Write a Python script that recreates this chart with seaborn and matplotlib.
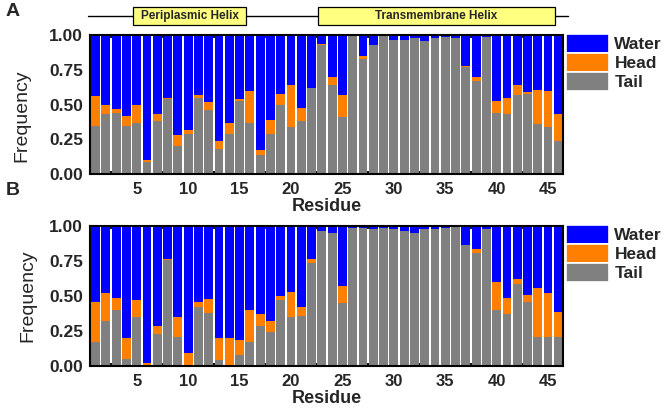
import numpy as np
import pandas as pd
import matplotlib
matplotlib.use("Agg")
import matplotlib.pyplot as plt
import matplotlib.transforms as mtransforms
from matplotlib.patches import Rectangle, Patch
from matplotlib.ticker import MultipleLocator, FormatStrFormatter
import seaborn as sns

residues = list(range(1, 47))

tail_a = [0.35, 0.43, 0.44, 0.35, 0.37, 0.09, 0.38, 0.54, 0.20, 0.29, 0.55, 0.46, 0.18, 0.29, 0.53,
          0.37, 0.14, 0.29, 0.50, 0.34, 0.38, 0.62, 0.93, 0.64, 0.41, 1.00, 0.83, 0.93, 1.00, 0.97,
          0.97, 0.98, 0.96, 0.98, 0.99, 0.98, 0.77, 0.67, 0.99, 0.44, 0.43, 0.57, 0.58, 0.36, 0.34, 0.24]
head_a = [0.21, 0.07, 0.03, 0.07, 0.13, 0.01, 0.05, 0.01, 0.08, 0.03, 0.02, 0.06, 0.06, 0.08, 0.01,
          0.23, 0.03, 0.10, 0.08, 0.30, 0.10, 0.00, 0.01, 0.06, 0.16, 0.00, 0.02, 0.00, 0.00, 0.00,
          0.00, 0.00, 0.00, 0.00, 0.00, 0.00, 0.01, 0.03, 0.00, 0.09, 0.12, 0.07, 0.01, 0.25, 0.26, 0.19]
water_a = [0.44, 0.50, 0.53, 0.58, 0.50, 0.90, 0.57, 0.45, 0.72, 0.68, 0.43, 0.48, 0.76, 0.63, 0.46,
           0.40, 0.83, 0.61, 0.42, 0.36, 0.52, 0.38, 0.06, 0.30, 0.43, 0.00, 0.15, 0.07, 0.00, 0.03,
           0.03, 0.02, 0.04, 0.02, 0.01, 0.02, 0.22, 0.30, 0.01, 0.47, 0.45, 0.36, 0.41, 0.39, 0.40, 0.57]

tail_b = [0.17, 0.32, 0.40, 0.05, 0.35, 0.005, 0.23, 0.76, 0.21, 0.00, 0.42, 0.38, 0.04, 0.00, 0.08,
          0.17, 0.29, 0.24, 0.47, 0.35, 0.36, 0.74, 0.97, 0.95, 0.45, 0.99, 0.99, 0.98, 0.99, 0.98,
          0.965, 0.955, 0.98, 0.985, 0.99, 1.00, 0.87, 0.81, 0.98, 0.40, 0.37, 0.59, 0.46, 0.21, 0.21, 0.21]
head_b = [0.29, 0.20, 0.09, 0.15, 0.12, 0.015, 0.06, 0.005, 0.14, 0.09, 0.04, 0.10, 0.16, 0.20, 0.105,
          0.23, 0.08, 0.08, 0.03, 0.18, 0.06, 0.025, 0.00, 0.00, 0.12, 0.00, 0.00, 0.00, 0.00, 0.00,
          0.00, 0.00, 0.00, 0.00, 0.00, 0.00, 0.00, 0.03, 0.00, 0.20, 0.12, 0.03, 0.05, 0.35, 0.315, 0.18]
water_b = [0.54, 0.48, 0.51, 0.80, 0.53, 0.98, 0.71, 0.235, 0.65, 0.91, 0.54, 0.52, 0.80, 0.80, 0.815,
           0.60, 0.63, 0.68, 0.50, 0.47, 0.58, 0.235, 0.03, 0.05, 0.43, 0.01, 0.01, 0.02, 0.01, 0.02,
           0.035, 0.045, 0.02, 0.015, 0.01, 0.00, 0.13, 0.16, 0.02, 0.40, 0.51, 0.38, 0.49, 0.44, 0.475, 0.61]

series_names = ["Water", "Head", "Tail"]
colors = {"Water": "#0000FF", "Head": "#FF8000", "Tail": "#808080"}

helix_names = ["Periplasmic Helix", "Transmembrane Helix"]
helix_start = [4.65, 22.6]
helix_end = [15.6, 45.7]

sns.set_style("ticks")
plt.rcParams["font.family"] = ["Liberation Sans", "DejaVu Sans"]

fig = plt.figure(figsize=(6.66, 4.08), dpi=100)
ax_a = fig.add_axes([0.1351, 0.5735, 0.7102, 0.3395])
ax_b = fig.add_axes([0.1351, 0.1030, 0.7102, 0.3420])


def draw_panel(ax, tail, head, water):
    t = np.array(tail)
    h = np.array(head)
    w = np.array(water)
    df = pd.DataFrame({"Residue": residues, "Tail": t, "HeadTop": t + h, "Total": t + h + w})
    for col, name in [("Total", "Water"), ("HeadTop", "Head"), ("Tail", "Tail")]:
        sns.barplot(data=df, x="Residue", y=col, native_scale=True, width=0.86,
                    color=colors[name], saturation=1, errorbar=None, ax=ax,
                    linewidth=0, edgecolor="none")
    ax.set_xlim(0.45, 46.45)
    ax.set_ylim(0, 1.0)
    ax.xaxis.set_major_locator(MultipleLocator(5))
    ax.xaxis.set_minor_locator(MultipleLocator(2.5))
    ax.yaxis.set_major_locator(MultipleLocator(0.25))
    ax.yaxis.set_minor_locator(MultipleLocator(0.125))
    ax.yaxis.set_major_formatter(FormatStrFormatter("%.2f"))
    ax.tick_params(which="both", direction="in", top=True, right=True, width=1.3, color="black")
    ax.tick_params(which="major", length=4, labelsize=12.5)
    ax.tick_params(which="minor", length=2.5)
    ax.tick_params(axis="x", which="major", pad=6, labelsize=12)
    ax.tick_params(axis="y", which="major", pad=5)
    for lab in ax.get_xticklabels() + ax.get_yticklabels():
        lab.set_fontweight("bold")
    for sp in ax.spines.values():
        sp.set_linewidth(1.5)
        sp.set_color("black")
    ax.set_xlabel("Residue", fontsize=13, fontweight="bold", labelpad=0.5)
    ax.set_ylabel("Frequency", fontsize=14, fontweight="normal", labelpad=9)
    handles = [Patch(facecolor=colors[n], edgecolor="white", linewidth=1.2, label=n)
               for n in series_names]
    leg = ax.legend(handles=handles, loc="upper left", bbox_to_anchor=(1.006, 1.01),
                    frameon=False, fontsize=12.5, handlelength=2.5, handleheight=1.3,
                    labelspacing=0.0, handletextpad=0.3, borderpad=0, borderaxespad=0)
    for txt in leg.get_texts():
        txt.set_fontweight("bold")


draw_panel(ax_a, tail_a, head_a, water_a)
draw_panel(ax_b, tail_b, head_b, water_b)
ax_a.yaxis.set_label_coords(-0.125, 0.42)

# Helix annotation above panel A
trans = mtransforms.blended_transform_factory(ax_a.transData, ax_a.transAxes)
ax_a.plot([0.26, 46.9], [1.144, 1.144], color="black", lw=1.0, transform=trans, clip_on=False)
for name, s, e in zip(helix_names, helix_start, helix_end):
    rect = Rectangle((s, 1.079), e - s, 0.13, transform=trans, clip_on=False,
                     facecolor="#FFFF80", edgecolor="black", lw=0.9, zorder=5)
    ax_a.add_patch(rect)
    ax_a.text((s + e) / 2, 1.144, name, transform=trans, ha="center", va="center",
              fontsize=8.5, fontweight="bold", zorder=6)

fig.text(0.008, 0.973, "A", fontsize=14, fontweight="bold", va="center", ha="left")
fig.text(0.008, 0.532, "B", fontsize=14, fontweight="bold", va="center", ha="left")

fig.savefig("out.png", dpi=100)
